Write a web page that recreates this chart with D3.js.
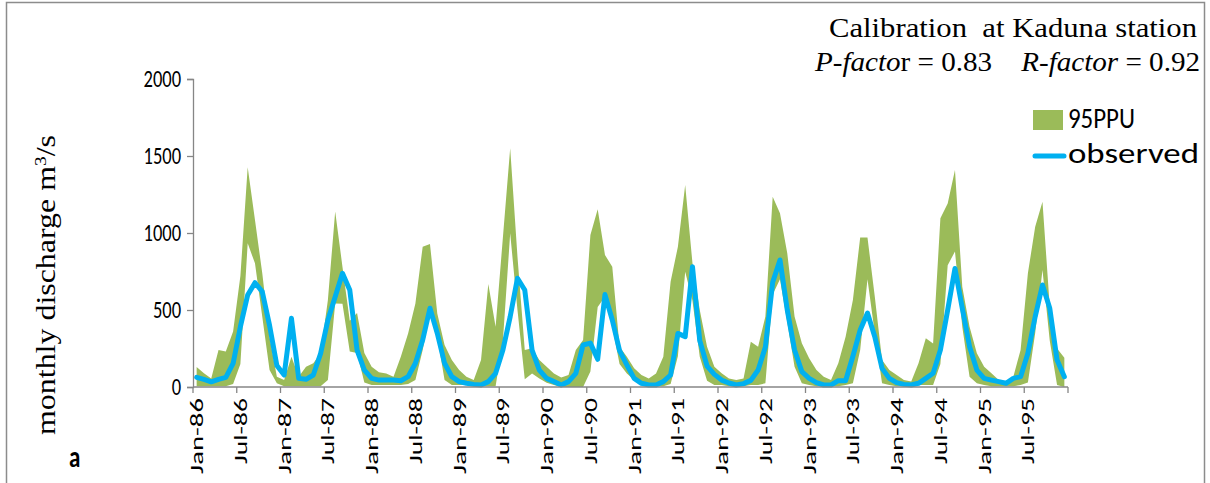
<!DOCTYPE html>
<html><head><meta charset="utf-8">
<script src="https://cdn.jsdelivr.net/npm/d3@7"></script>
<style>
html,body{margin:0;padding:0;background:#fff;}
svg{display:block;}
</style></head>
<body>
<svg id="chart" width="1210" height="483"></svg>
<script>
// ---- data ----
const monthNames = ["Jan","Feb","Mar","Apr","May","Jun","Jul","Aug","Sep","Oct","Nov","Dec"];
const years = ["86","87","88","89","90","91","92","93","94","95"];
const tickLabels = ["Jan-86","Jul-86","Jan-87","Jul-87","Jan-88","Jul-88","Jan-89","Jul-89","Jan-90","Jul-90",
  "Jan-91","Jul-91","Jan-92","Jul-92","Jan-93","Jul-93","Jan-94","Jul-94","Jan-95","Jul-95"];
const yTicks = [0, 500, 1000, 1500, 2000];

const observed = [
  63, 50, 34, 50, 63, 153, 392, 597, 677, 619, 400, 140,
  78, 446, 56, 50, 78, 218, 435, 586, 738, 630, 240, 110,
  56, 45, 45, 45, 41, 67, 154, 305, 511, 349, 154, 67,
  35, 24, 17, 13, 35, 89, 240, 457, 706, 630, 240, 110,
  56, 35, 13, 35, 89, 273, 285, 180, 600, 435, 236, 143,
  56, 24, 13, 13, 35, 78, 348, 327, 781, 301, 136, 82,
  45, 26, 13, 22, 43, 110, 260, 680, 825, 500, 240, 100,
  56, 28, 13, 13, 41, 41, 200, 370, 480, 327, 121, 56,
  28, 17, 13, 24, 56, 89, 240, 500, 770, 511, 262, 110,
  56, 45, 35, 24, 56, 67, 219, 457, 662, 511, 175, 67
];
const ppuUpper = [
  130, 90, 55, 240, 230, 360, 720, 1427, 1084, 738, 327, 67,
  45, 197, 67, 132, 154, 219, 565, 1140, 780, 430, 480, 220,
  132, 95, 88, 67, 197, 348, 543, 911, 929, 478, 273, 175,
  110, 67, 45, 175, 669, 391, 970, 1550, 846, 240, 251, 175,
  132, 88, 62, 78, 240, 305, 987, 1154, 857, 781, 262, 197,
  121, 78, 56, 88, 197, 684, 911, 1312, 803, 500, 262, 132,
  89, 56, 45, 56, 294, 262, 457, 1236, 1128, 868, 457, 284,
  186, 110, 67, 45, 154, 327, 565, 971, 971, 587, 175, 110,
  78, 45, 35, 154, 316, 283, 1095, 1192, 1409, 651, 392, 219,
  132, 89, 45, 35, 67, 240, 738, 1041, 1203, 520, 250, 190
];
const ppuLower = [
  5, 5, 5, 5, 5, 20, 150, 933, 803, 456, 110, 24,
  5, 5, 5, 5, 5, 5, 45, 543, 540, 230, 220, 30,
  13, 13, 13, 13, 13, 20, 45, 240, 480, 327, 45, 13,
  13, 13, 5, 5, 5, 5, 300, 998, 500, 50, 88, 56,
  28, 13, 0, 0, 0, 0, 100, 520, 586, 392, 150, 88,
  45, 13, 5, 5, 5, 20, 200, 749, 560, 197, 40, 13,
  13, 5, 5, 5, 13, 13, 24, 600, 700, 420, 132, 24,
  13, 5, 5, 5, 5, 13, 24, 240, 700, 350, 24, 13,
  5, 5, 5, 13, 13, 13, 150, 790, 880, 392, 67, 24,
  13, 5, 5, 5, 5, 13, 30, 350, 760, 300, 13, 0
];

// ---- build ----
const categories = [];
years.forEach(yr => monthNames.forEach(m => categories.push(m + "-" + yr)));
const rows = categories.map((c, i) => ({c, obs: observed[i], up: ppuUpper[i], lo: ppuLower[i]}));

const svg = d3.select("#chart");
const pLeft = 193, pRight = 1068, pTop = 79, pBottom = 387;
const x = d3.scaleBand().domain(categories).range([pLeft, pRight]).padding(0);
const y = d3.scaleLinear().domain([0, 2000]).range([pBottom, pTop]);
const cx = c => x(c) + x.bandwidth() / 2;
const axisColor = "#868686";
const tickFont = "Carlito, Calibri, Lato, 'Liberation Sans', sans-serif";
const serif = "'Liberation Serif', 'Times New Roman', serif";

// outer border
svg.append("rect").attr("x", 6.5).attr("y", 2.5).attr("width", 1198).attr("height", 600)
  .attr("fill", "none").attr("stroke", "#8c8c8c").attr("stroke-width", 1.5);

// band
svg.append("path").datum(rows)
  .attr("d", d3.area().x(d => cx(d.c)).y0(d => y(d.lo)).y1(d => y(d.up)))
  .attr("fill", "#9BBB59");

// observed line
svg.append("path").datum(rows)
  .attr("d", d3.line().x(d => cx(d.c)).y(d => y(d.obs)))
  .attr("fill", "none").attr("stroke", "#00B0F0").attr("stroke-width", 5)
  .attr("stroke-linejoin", "round").attr("stroke-linecap", "round");

// y axis
const yAxis = svg.append("g").attr("transform", `translate(${pLeft},0)`)
  .call(d3.axisLeft(y).tickValues(yTicks).tickSize(6).tickPadding(6).tickFormat(d3.format("d")));
yAxis.select(".domain").attr("stroke", axisColor).attr("stroke-width", 1.3);
yAxis.selectAll(".tick line").attr("stroke", axisColor).attr("stroke-width", 1.3);
yAxis.selectAll("text").attr("font-family", tickFont).attr("font-size", 18.5).attr("fill", "#000")
  .attr("transform", "scale(1,1.3)").attr("dy", "0.3em");

// x axis: ticks between categories every 6 months
const tickCats = categories.filter((c, i) => i % 6 === 0);
const xg = svg.append("g");
xg.append("line").attr("x1", pLeft).attr("x2", pRight).attr("y1", pBottom).attr("y2", pBottom)
  .attr("stroke", axisColor).attr("stroke-width", 1.3);
const tickPos = tickCats.map(c => x(c)).concat([pRight]);
xg.selectAll("line.t").data(tickPos).enter().append("line").attr("class", "t")
  .attr("x1", d => d).attr("x2", d => d).attr("y1", pBottom).attr("y2", pBottom + 6)
  .attr("stroke", axisColor).attr("stroke-width", 1.3);
xg.selectAll("text").data(tickCats).enter().append("text")
  .attr("transform", (c) => `translate(${cx(c) + 6.5},${pBottom + 11}) rotate(-90)`)
  .attr("text-anchor", "end")
  .attr("font-family", tickFont).attr("font-size", 18).attr("fill", "#000")
  .attr("textLength", (c, i) => tickLabels[i].startsWith("Jan") ? 76 : 66)
  .attr("lengthAdjust", "spacingAndGlyphs")
  .text((c, i) => tickLabels[i]);

// y title
svg.append("text")
  .attr("transform", `translate(55,285) rotate(-90)`)
  .attr("text-anchor", "middle").attr("font-family", serif).attr("font-size", 28).attr("fill", "#000")
  .attr("textLength", 300).attr("lengthAdjust", "spacingAndGlyphs")
  .html('monthly discharge m<tspan baseline-shift="super" font-size="17">3</tspan>/s');

// title lines
svg.append("text").attr("x", 1197).attr("y", 37).attr("text-anchor", "end")
  .attr("font-family", serif).attr("font-size", 28).attr("fill", "#000")
  .attr("textLength", 368).attr("lengthAdjust", "spacingAndGlyphs")
  .text("Calibration\u00a0 at Kaduna station");
const t2 = svg.append("text").attr("x", 1200).attr("y", 71).attr("text-anchor", "end")
  .attr("font-family", serif).attr("font-size", 28).attr("fill", "#000")
  .attr("textLength", 385).attr("lengthAdjust", "spacingAndGlyphs");
t2.append("tspan").attr("font-style", "italic").text("P-facto");
t2.append("tspan").text("r = 0.83\u00a0\u00a0\u00a0 ");
t2.append("tspan").attr("font-style", "italic").text("R-factor");
t2.append("tspan").text(" = 0.92");

// legend
svg.append("rect").attr("x", 1033).attr("y", 110).attr("width", 30).attr("height", 20).attr("fill", "#9BBB59");
svg.append("text").attr("x", 1068).attr("y", 98.5).attr("font-family", tickFont).attr("font-size", 22)
  .attr("transform", "scale(1,1.3)")
  .attr("textLength", 67).attr("lengthAdjust", "spacingAndGlyphs").text("95PPU");
svg.append("line").attr("x1", 1035).attr("x2", 1064).attr("y1", 156).attr("y2", 156)
  .attr("stroke", "#00B0F0").attr("stroke-width", 5).attr("stroke-linecap", "round");
svg.append("text").attr("x", 1068).attr("y", 125.5).attr("font-family", tickFont).attr("font-size", 22)
  .attr("transform", "scale(1,1.3)")
  .attr("textLength", 131).attr("lengthAdjust", "spacingAndGlyphs").text("observed");

// panel label
svg.append("text").attr("x", 69).attr("y", 359.5).attr("font-family", tickFont).attr("font-weight", "bold")
  .attr("font-size", 23).attr("transform", "scale(1,1.3)").text("a");
</script>
</body></html>
